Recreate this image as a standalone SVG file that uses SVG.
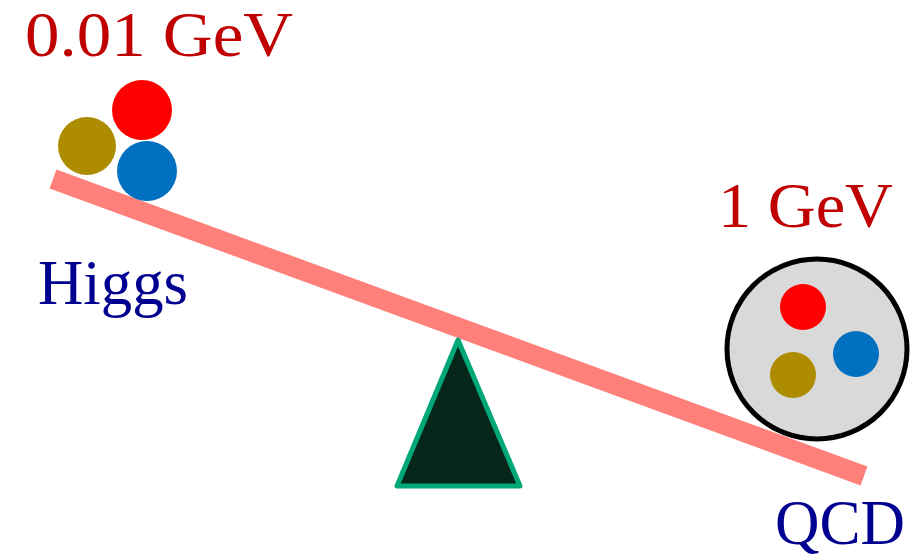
<svg xmlns="http://www.w3.org/2000/svg" width="910" height="560" viewBox="0 0 910 560">
<style>
.lbl{font-family:"Liberation Serif","DejaVu Serif",serif;font-size:64px}
.mass{fill:#c00000}
.name{fill:#000090}
.r{fill:#ff0000}.b{fill:#0070c0}.g{fill:#ae8c00}
</style>
<rect width="910" height="560" fill="#ffffff"/>
<g id="connectors">
<line id="beam" x1="53" y1="179" x2="864" y2="476" stroke="#ff7f7a" stroke-width="20"/>
</g>
<g id="fulcrum">
<polygon points="458,340 397,486 520,486" fill="#07261a" stroke="#00a878" stroke-width="5" stroke-linejoin="round"/>
</g>
<g id="higgs-balls">
<circle class="g" cx="87" cy="146" r="29"/>
<circle class="r" cx="142" cy="110" r="30"/>
<circle class="b" cx="147" cy="171" r="30"/>
</g>
<g id="qcd-proton">
<circle cx="817" cy="349" r="90" fill="#d9d9d9" stroke="#000" stroke-width="5"/>
<circle class="r" cx="803" cy="307" r="23"/>
<circle class="b" cx="856" cy="354" r="23"/>
<circle class="g" cx="793" cy="375" r="23"/>
</g>
<g id="labels">
<text class="lbl mass" x="25" y="56" textLength="268" lengthAdjust="spacingAndGlyphs">0.01 GeV</text>
<text class="lbl mass" x="718" y="227" textLength="175" lengthAdjust="spacingAndGlyphs">1 GeV</text>
<text class="lbl name" x="38" y="304" textLength="150" lengthAdjust="spacingAndGlyphs">Higgs</text>
<text class="lbl name" x="775" y="544" textLength="130" lengthAdjust="spacingAndGlyphs">QCD</text>
</g>
</svg>
